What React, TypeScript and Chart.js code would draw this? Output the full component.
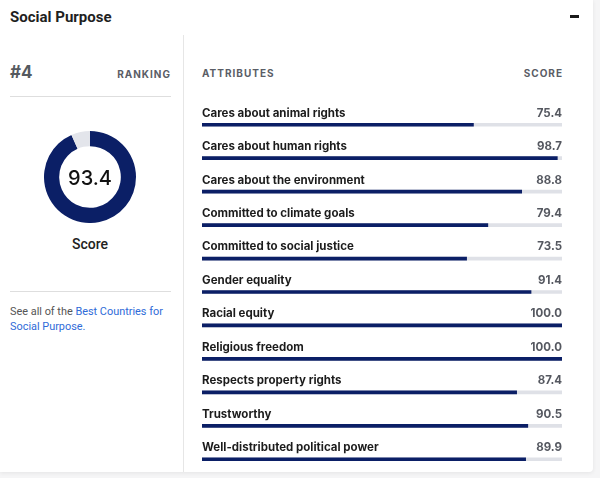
import React, { useEffect, useRef } from "react";
import { Chart, registerables } from "chart.js";

Chart.register(...registerables);

// ---- data ----
const attributes: string[] = [
  "Cares about animal rights",
  "Cares about human rights",
  "Cares about the environment",
  "Committed to climate goals",
  "Committed to social justice",
  "Gender equality",
  "Racial equity",
  "Religious freedom",
  "Respects property rights",
  "Trustworthy",
  "Well-distributed political power",
];
const scores: number[] = [75.4, 98.7, 88.8, 79.4, 73.5, 91.4, 100.0, 100.0, 87.4, 90.5, 89.9];
const overallScore = 93.4;
const ranking = "#4";
const scaleMax = 100;
const title = "Social Purpose";

const NAVY = "#0b1f66";
const TRACK = "#dfe1e7";
const LABEL_FONT = "Inter";

const abs = (s: React.CSSProperties): React.CSSProperties => ({ position: "absolute", ...s });

function Doughnut() {
  const ref = useRef<HTMLCanvasElement>(null);
  useEffect(() => {
    if (!ref.current) return;
    const centerText = {
      id: "centerText",
      afterDraw(chart: any) {
        const { ctx, chartArea } = chart;
        const cx = (chartArea.left + chartArea.right) / 2;
        const cy = (chartArea.top + chartArea.bottom) / 2;
        ctx.save();
        ctx.font = `500 20px ${LABEL_FONT}`;
        ctx.fillStyle = "#111";
        ctx.textAlign = "center";
        ctx.textBaseline = "middle";
        ctx.fillText(overallScore.toFixed(1), cx, cy + 2);
        ctx.restore();
      },
    };
    const chart = new Chart(ref.current, {
      type: "doughnut",
      data: {
        labels: ["Score", "Remaining"],
        datasets: [
          {
            data: [overallScore, scaleMax - overallScore],
            backgroundColor: [NAVY, "#e3e5eb"],
            borderWidth: 0,
          },
        ],
      },
      options: {
        animation: false,
        responsive: false,
        devicePixelRatio: 1,
        cutout: "67%",
        plugins: { legend: { display: false }, tooltip: { enabled: false } },
      },
      plugins: [centerText],
    });
    return () => chart.destroy();
  }, []);
  return <canvas ref={ref} width={92} height={92} style={abs({ left: 44, top: 131, width: 92, height: 92 })} />;
}

function Bars() {
  const ref = useRef<HTMLCanvasElement>(null);
  useEffect(() => {
    if (!ref.current) return;
    const rowLabels = {
      id: "rowLabels",
      afterDatasetsDraw(chart: any) {
        const { ctx, chartArea } = chart;
        const meta = chart.getDatasetMeta(0);
        ctx.save();
        ctx.textBaseline = "middle";
        meta.data.forEach((el: any, i: number) => {
          const y = el.y - 11.5;
          ctx.font = `700 11.5px ${LABEL_FONT}`;
          ctx.fillStyle = "#1c1c1c";
          ctx.textAlign = "left";
          ctx.fillText(attributes[i], chartArea.left, y);
          ctx.font = `700 11.5px ${LABEL_FONT}`;
          ctx.fillStyle = "#555860";
          ctx.textAlign = "right";
          ctx.fillText(scores[i].toFixed(1), chartArea.right, y);
        });
        ctx.restore();
      },
    };
    const chart = new Chart(ref.current, {
      type: "bar",
      data: {
        labels: attributes,
        datasets: [
          { data: scores, backgroundColor: NAVY, barThickness: 3, grouped: false, order: 0 } as any,
          { data: attributes.map(() => scaleMax), backgroundColor: TRACK, barThickness: 3, grouped: false, order: 1 } as any,
        ],
      },
      options: {
        indexAxis: "y",
        animation: false,
        responsive: false,
        devicePixelRatio: 1,
        layout: { padding: { left: 18, right: 31, top: 8, bottom: 2 } },
        scales: {
          x: { min: 0, max: scaleMax, display: false },
          y: { display: false },
        },
        plugins: { legend: { display: false }, tooltip: { enabled: false } },
      },
      plugins: [rowLabels],
    });
    return () => chart.destroy();
  }, []);
  return <canvas ref={ref} width={409} height={378} style={abs({ left: 184, top: 100, width: 409, height: 378 })} />;
}

export default function App() {
  const capsStyle: React.CSSProperties = {
    font: `700 10px ${LABEL_FONT}`,
    letterSpacing: "1px",
    color: "#5a5d66",
    lineHeight: "12px",
    whiteSpace: "nowrap",
  };
  return (
    <div style={{ position: "fixed", left: 0, top: 0, width: 600, height: 478, background: "#f5f5f6", overflow: "hidden" }}>
      <div
        style={abs({
          left: 0,
          top: 0,
          width: 593,
          height: 472,
          background: "#fff",
          boxShadow: "0 1px 4px rgba(0,0,0,0.07)",
          borderRadius: "0 0 4px 0",
        })}
      >
        <div style={abs({ left: 10, top: 7, font: "700 15px Roboto", lineHeight: "20px", color: "#1f1f1f" })}>{title}</div>
        <div style={abs({ left: 570, top: 15, width: 9, height: 3, background: "#1a1a1a" })} />
        <div style={abs({ left: 183, top: 35, width: 1, height: 437, background: "#e6e6e6" })} />

        <div style={abs({ left: 10, top: 61, font: `700 17px ${LABEL_FONT}`, lineHeight: "22px", color: "#555a60" })}>{ranking}</div>
        <div style={abs({ left: 0, width: 171, top: 68, textAlign: "right", ...capsStyle })}>RANKING</div>
        <div style={abs({ left: 10, top: 96, width: 161, height: 1, background: "#dedede" })} />

        <Doughnut />
        <div style={abs({ left: 40, width: 100, top: 235, textAlign: "center", font: "500 14px Roboto", lineHeight: "18px", color: "#222" })}>
          Score
        </div>
        <div style={abs({ left: 10, top: 291, width: 161, height: 1, background: "#dedede" })} />
        <div style={abs({ left: 10, top: 304, width: 160, font: "400 10.9px Roboto", lineHeight: "15px", color: "#555" })}>
          See all of the <span style={{ color: "#2f6bd8" }}>Best Countries for Social Purpose.</span>
        </div>

        <div style={abs({ left: 202, top: 67, ...capsStyle })}>ATTRIBUTES</div>
        <div style={abs({ left: 400, width: 163, top: 67, textAlign: "right", ...capsStyle })}>SCORE</div>
      </div>
      <Bars />
    </div>
  );
}
